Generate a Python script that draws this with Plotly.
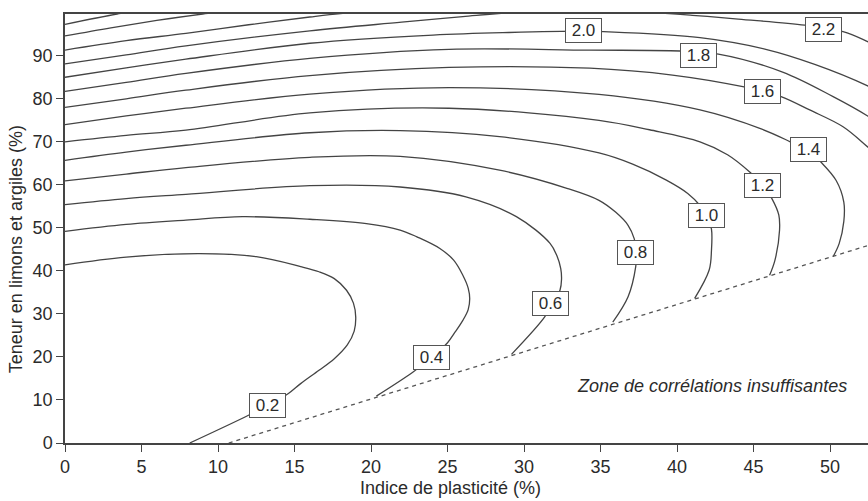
import plotly.graph_objects as go

# ---- contour lines (x = Indice de plasticité, y = Teneur en limons et argiles) ----
c02_x = [0, 4, 8.8, 12.5, 15.4, 16.6, 17.6, 18.4, 18.85, 19.0, 18.9, 18.45, 17.6, 16.6, 15.4, 14.6, 13.25, 11.96, 8.15]
c02_y = [41.4, 43.2, 44.0, 43.3, 41.0, 39.8, 38.2, 35.5, 32.5, 29.3, 26.0, 22.8, 19.6, 16.9, 13.8, 11.5, 8.8, 6.4, 0]

c04_x = [0, 4, 7.9, 11.6, 16.0, 19.7, 21.9, 23.0, 24.5, 25.4, 26.0, 26.35, 26.45, 26.35, 26.0, 25.5, 25.0, 23.97, 22.75, 20.35]
c04_y = [49.2, 50.8, 51.8, 52.6, 52.0, 51.0, 49.5, 47.9, 45.2, 42.5, 39.0, 36.0, 33.5, 31.0, 28.5, 25.8, 23.3, 19.9, 16.5, 10.9]

c06_x = [0, 4, 7.9, 16.0, 21.9, 26.2, 29.5, 31.7, 32.15, 32.4, 32.45, 32.35, 32.1, 31.76, 31.35, 29.18]
c06_y = [55.4, 56.8, 57.8, 59.8, 59.5, 57.2, 52.6, 46.4, 43.5, 40.5, 38.0, 35.5, 33.8, 32.0, 29.3, 20.6]

c08_x = [0, 4, 7.9, 16.0, 21.9, 28.4, 32.8, 34.9, 36.0, 36.8, 37.2, 37.35, 37.3, 36.8, 35.8]
c08_y = [60.9, 62.5, 64.0, 66.4, 66.6, 63.4, 59.2, 56.4, 53.6, 50.6, 47.5, 44.3, 41.0, 34.0, 28.1]

c10_x = [0, 4, 7.9, 16.0, 21.9, 28.4, 34.9, 37.1, 39.3, 40.7, 41.5, 42.0, 42.25, 42.25, 42.1, 41.15]
c10_y = [65.7, 67.6, 69.2, 72.1, 72.6, 71.2, 67.4, 64.8, 61.1, 58.0, 55.2, 52.5, 49.7, 44.8, 40.2, 33.6]

c12_x = [0, 4, 7.9, 16.0, 25.1, 34.9, 38.2, 41.5, 43.3, 44.75, 45.6, 46.2, 46.65, 46.7, 46.4, 46.05]
c12_y = [70.0, 71.5, 72.7, 76.7, 77.8, 75.0, 72.8, 70.0, 67.0, 63.0, 60.0, 56.8, 53.0, 49.5, 42.5, 39.0]

c14_x = [0, 4, 7.9, 16.0, 25.1, 34.9, 41.5, 45.5, 47.4, 48.6, 49.4, 50.4, 50.9, 50.9, 50.6, 50.2]
c14_y = [74.0, 76.0, 77.8, 81.1, 82.6, 81.0, 77.4, 73.0, 70.0, 67.9, 65.3, 61.0, 56.0, 51.5, 46.4, 43.3]

c16_x = [0, 4, 7.9, 16.0, 25.1, 34.3, 39.7, 44.3, 45.57, 46.8, 48.67, 50.85, 52.46, 53.5]
c16_y = [78.0, 80.0, 82.0, 85.4, 87.3, 87.1, 85.5, 82.8, 81.7, 80.5, 77.4, 73.5, 68.8, 65.5]

c18_x = [0, 4, 7.9, 16.0, 25.1, 34.3, 40.2, 42.7, 46.9, 50.2, 52.46, 53.5]
c18_y = [81.7, 83.8, 85.9, 89.4, 91.5, 91.3, 91.1, 90.4, 86.2, 80.5, 76.0, 73.5]

c20_x = [0, 4, 7.9, 16.0, 24.05, 29.0, 33.9, 35.2, 41.5, 45.8, 49.0, 52.46, 53.5]
c20_y = [85.0, 87.2, 89.2, 92.9, 94.8, 95.4, 95.7, 95.6, 94.2, 91.5, 88.0, 83.0, 81.0]

c22_x = [0, 4, 7.9, 16.0, 22.0, 26.0, 30.0, 34.0, 38.0, 41.0, 44.0, 48.35, 50.85, 52.46, 53.5]
c22_y = [88.1, 90.2, 92.3, 95.8, 97.8, 99.1, 100.2, 100.5, 100.1, 99.4, 98.5, 97.1, 95.6, 93.3, 91.5]

c24_x = [0, 4, 7.9, 12.0, 16.0, 18.0, 21.0]
c24_y = [91.3, 93.5, 95.2, 97.2, 99.0, 99.8, 100.6]

c26_x = [0, 3, 6, 9.0, 11.5]
c26_y = [94.6, 96.5, 98.2, 99.7, 100.7]

c28_x = [0, 3.4, 5.5]
c28_y = [97.3, 99.7, 100.8]

# ---- boundary of the insufficient-correlation zone ----
boundary_x = [10.7, 52.48]
boundary_y = [0, 45.9]

# ---- contour labels ----
label_text = ["0.2", "0.4", "0.6", "0.8", "1.0", "1.2", "1.4", "1.6", "1.8", "2.0", "2.2"]
label_x = [13.25, 23.97, 31.76, 37.3, 41.9, 45.57, 48.6, 45.57, 41.4, 33.9, 49.6]
label_y = [8.8, 19.9, 32.4, 44.3, 52.8, 59.9, 68.2, 81.7, 90.0, 95.8, 96.0]

x_ticks = [0, 5, 10, 15, 20, 25, 30, 35, 40, 45, 50]
y_ticks = [0, 10, 20, 30, 40, 50, 60, 70, 80, 90]

FONT = "Liberation Sans, Arial, Helvetica, sans-serif"
LINE_COL = "#444444"
TEXT_COL = "#2b2b2b"

contours = [
    (c02_x, c02_y), (c04_x, c04_y), (c06_x, c06_y), (c08_x, c08_y),
    (c10_x, c10_y), (c12_x, c12_y), (c14_x, c14_y), (c16_x, c16_y),
    (c18_x, c18_y), (c20_x, c20_y), (c22_x, c22_y), (c24_x, c24_y),
    (c26_x, c26_y), (c28_x, c28_y),
]

fig = go.Figure()
for cx, cy in contours:
    fig.add_trace(go.Scatter(
        x=cx, y=cy, mode="lines",
        line=dict(color=LINE_COL, width=1.3, shape="spline", smoothing=1.0),
        hoverinfo="skip", showlegend=False,
    ))

fig.add_trace(go.Scatter(
    x=boundary_x, y=boundary_y, mode="lines",
    line=dict(color="#555555", width=1.3, dash="4px,4px"),
    hoverinfo="skip", showlegend=False,
))

for t, lx, ly in zip(label_text, label_x, label_y):
    fig.add_annotation(
        x=lx, y=ly, xref="x", yref="y", text=t, showarrow=False,
        font=dict(family=FONT, size=17, color=TEXT_COL),
        bgcolor="white", bordercolor="#555555", borderwidth=1,
        borderpad=1, width=33, height=21,
    )

fig.add_annotation(
    x=42.3, y=13.3, xref="x", yref="y",
    text="<i>Zone de corrélations insuffisantes</i>", showarrow=False,
    font=dict(family=FONT, size=18, color=TEXT_COL),
)

# axis titles
fig.add_annotation(
    x=(450 - 65) / 803, y=-0.105, xref="paper", yref="paper",
    text="Indice de plasticité (%)", showarrow=False, yanchor="middle",
    font=dict(family=FONT, size=18, color=TEXT_COL),
)
fig.add_annotation(
    x=-0.061, y=(442.7 - 249) / 428.7, xref="paper", yref="paper",
    text="Teneur en limons et argiles (%)", showarrow=False, textangle=-90,
    xanchor="center", yanchor="middle",
    font=dict(family=FONT, size=18, color=TEXT_COL),
)

fig.update_layout(
    width=868, height=501,
    margin=dict(l=65, r=0, t=14, b=58),
    paper_bgcolor="white", plot_bgcolor="white",
    font=dict(family=FONT, size=18, color=TEXT_COL),
    xaxis=dict(
        range=[0, 52.48], tickvals=x_ticks, ticks="outside", ticklen=7,
        tickcolor="#444444", showline=True, linecolor="#444444", linewidth=1.5,
        mirror=True, showgrid=False, zeroline=False,
        tickfont=dict(family=FONT, size=18, color=TEXT_COL),
    ),
    yaxis=dict(
        range=[0, 99.7], tickvals=y_ticks, ticks="outside", ticklen=7,
        tickcolor="#444444", showline=True, linecolor="#444444", linewidth=1.5,
        showgrid=False, zeroline=False,
        tickfont=dict(family=FONT, size=18, color=TEXT_COL),
    ),
)

fig.write_html(
    "out.html",
    config={"displayModeBar": False},
    post_script="document.body.style.margin='0px';document.body.style.overflow='hidden';",
)
